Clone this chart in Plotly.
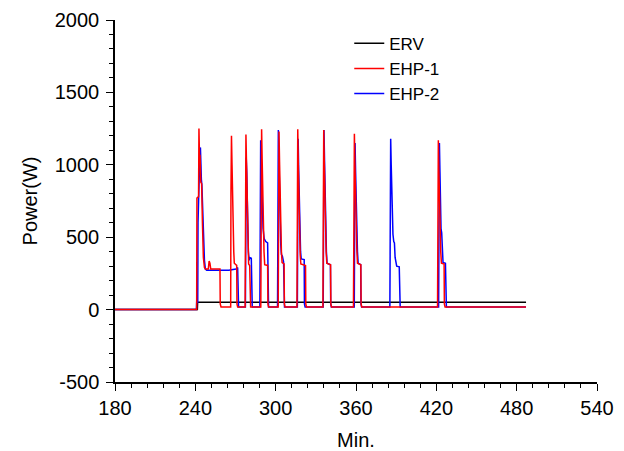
import plotly.graph_objects as go

# ERV
erv_t = [180, 241.5, 241.7, 487]
erv_p = [0, 0, 50, 50]

# EHP-1 (red)
ehp1_t = [180, 241.0, 241.2, 242.4, 242.7, 243.1, 243.5, 244.1, 244.7, 245.3, 246.0, 246.8, 247.5, 249.7, 250.3, 250.9, 251.5, 258.4, 258.6, 259.2,
          266.4, 266.6, 267.0, 267.4, 267.8, 268.2, 268.7, 269.1, 270.9, 271.1, 271.6,
          277.2, 277.4, 277.8, 278.2, 278.6, 279.0, 279.4, 279.8, 280.6, 280.8, 281.3,
          288.9, 289.1, 289.5, 289.9, 290.3, 290.8, 291.3, 291.8, 294.0, 294.2, 294.7,
          301.9, 302.1, 302.5, 302.9, 303.3, 303.8, 304.3, 304.8, 306.3, 306.5, 307.0,
          315.9, 316.1, 316.5, 316.9, 317.3, 317.8, 318.3, 318.8, 322.3, 322.5, 323.0,
          335.3, 335.5, 335.9, 336.3, 336.7, 337.2, 337.7, 338.2, 341.0, 341.2, 341.7,
          358.1, 358.3, 358.8, 359.2, 359.6, 360.1, 360.6, 361.1, 363.6, 363.8, 364.3,
          420.9, 421.1, 421.5, 421.9, 422.3, 422.8, 423.3, 423.8, 425.8, 426.0, 426.5,
          487]
ehp1_p = [0, 0, 770, 780, 1250, 1060, 1070, 880, 870, 600, 360, 290, 280, 280, 335, 320, 280, 280, 40, 18,
          18, 800, 1200, 1000, 760, 560, 400, 320, 305, 40, 18,
          18, 780, 1210, 1020, 760, 540, 380, 315, 305, 40, 18,
          18, 820, 1245, 1040, 780, 560, 400, 310, 305, 40, 18,
          18, 800, 1230, 1020, 760, 540, 400, 325, 315, 40, 18,
          18, 820, 1245, 1000, 720, 520, 380, 315, 305, 40, 18,
          18, 800, 1240, 1020, 760, 560, 400, 320, 310, 40, 18,
          18, 650, 1215, 1000, 760, 560, 420, 320, 310, 40, 18,
          18, 780, 1170, 960, 720, 520, 400, 320, 315, 40, 18,
          18]

# EHP-2 (blue)
ehp2_t = [180, 240.8, 241.0, 241.8, 242.0, 242.6, 243.3, 243.8, 244.1, 244.5, 244.9, 245.3, 245.8, 246.3, 246.8, 247.5, 248.5, 265.0, 270.3, 271.6, 271.8, 272.3,
          277.4, 277.6, 278.0, 278.4, 278.8, 279.2, 279.6, 280.2, 280.6, 281.8, 282.0, 282.5,
          288.2, 288.4, 288.8, 289.2, 289.6, 290.0, 290.6, 291.4, 292.6, 294.0, 294.2, 294.7,
          301.4, 301.6, 302.0, 302.4, 302.8, 303.3, 303.8, 304.3, 305.0, 305.9, 306.1, 306.6,
          316.2, 316.4, 316.8, 317.2, 317.6, 318.1, 318.6, 319.1, 321.3, 321.5, 322.0,
          335.5, 335.7, 336.1, 336.5, 336.9, 337.4, 337.9, 338.4, 340.9, 341.1, 341.6,
          358.7, 358.8, 358.9, 359.3, 359.7, 360.1, 360.6, 361.1, 361.6, 363.5, 363.7, 364.2,
          385.3, 385.5, 385.9, 386.3, 386.7, 387.1, 387.6, 388.2, 388.7, 389.2, 389.8, 390.4, 392.3, 392.5, 393.0,
          421.7, 421.9, 422.3, 422.7, 423.1, 423.5, 424.0, 424.5, 425.0, 426.8, 427.0, 427.5,
          487]
ehp2_p = [0, 0, 50, 50, 600, 900, 1050, 1120, 950, 900, 860, 730, 600, 450, 340, 280, 272, 272, 280, 290, 40, 18,
          18, 700, 1050, 950, 700, 520, 400, 340, 360, 355, 40, 18,
          18, 700, 1170, 1000, 800, 650, 560, 490, 470, 460, 40, 18,
          18, 750, 1240, 1050, 800, 580, 450, 380, 370, 330, 40, 18,
          18, 700, 1180, 960, 720, 520, 400, 350, 345, 40, 18,
          18, 760, 1240, 1030, 770, 560, 400, 320, 310, 40, 18,
          18, 230, 660, 1150, 950, 740, 540, 400, 320, 310, 40, 18,
          18, 710, 1180, 1000, 760, 560, 520, 470, 460, 360, 320, 300, 295, 40, 18,
          18, 700, 1150, 950, 720, 560, 530, 400, 325, 320, 40, 18,
          18]

x_ticks = [180, 240, 300, 360, 420, 480, 540]
y_ticks = [-500, 0, 500, 1000, 1500, 2000]

font_family = "Liberation Sans, Arial, sans-serif"

fig = go.Figure()
fig.add_trace(go.Scatter(x=erv_t, y=erv_p, mode="lines", name="ERV",
                         line=dict(color="#000000", width=1.5), legendrank=1))
fig.add_trace(go.Scatter(x=ehp2_t, y=ehp2_p, mode="lines", name="EHP-2",
                         line=dict(color="#0000FF", width=1.5), legendrank=3))
fig.add_trace(go.Scatter(x=ehp1_t, y=ehp1_p, mode="lines", name="EHP-1",
                         line=dict(color="#FF0000", width=1.5), legendrank=2))

axis_common = dict(
    showgrid=False, zeroline=False, showline=True, linecolor="black", linewidth=1.5,
    ticks="outside", ticklen=7, tickwidth=1.3, tickcolor="black",
    tickfont=dict(family=font_family, size=20, color="black"),
    ticklabeloverflow="allow",
)

fig.update_xaxes(range=[180, 540], tickvals=x_ticks, ticktext=[str(v) for v in x_ticks],
                 minor=dict(dtick=12, tick0=180, ticks="outside", ticklen=4, tickcolor="black", tickwidth=1.2),
                 title=dict(text="Min.", font=dict(family=font_family, size=20, color="black"), standoff=17),
                 **axis_common)
fig.update_yaxes(range=[-500, 2000], tickvals=y_ticks, ticktext=[str(v) for v in y_ticks],
                 minor=dict(dtick=100, tick0=0, ticks="outside", ticklen=4, tickcolor="black", tickwidth=1.2),
                 title=dict(text="Power(W)", font=dict(family=font_family, size=20, color="black"), standoff=12),
                 ticklabelstandoff=3,
                 **axis_common)

fig.update_layout(
    width=616, height=443,
    margin=dict(l=107, r=27, t=12, b=69, autoexpand=False),
    paper_bgcolor="white", plot_bgcolor="white",
    showlegend=True,
    legend=dict(x=0.486, y=0.984, xanchor="left", yanchor="top",
                font=dict(family=font_family, size=17, color="black"),
                bgcolor="rgba(0,0,0,0)", tracegroupgap=0, itemwidth=30),
)

fig.write_html("out.html")
